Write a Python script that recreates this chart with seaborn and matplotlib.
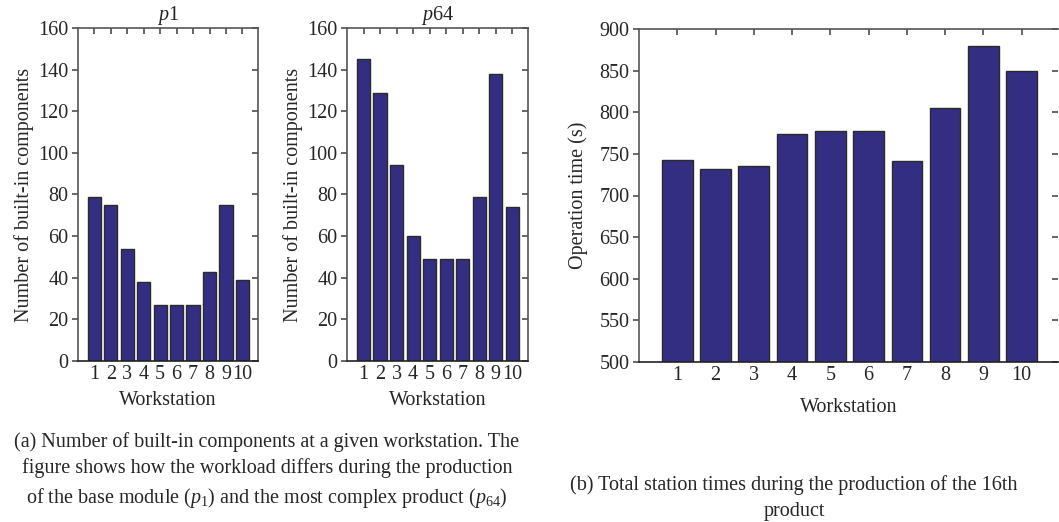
import matplotlib
matplotlib.use("Agg")
import matplotlib.pyplot as plt
import seaborn as sns
import pandas as pd

# data
workstations = ["1", "2", "3", "4", "5", "6", "7", "8", "9", "10"]
components_p1 = [79, 75, 54, 38, 27, 27, 27, 43, 75, 39]
components_p64 = [145, 129, 94, 60, 49, 49, 49, 79, 138, 74]
operation_time = [743, 732, 735, 774, 777, 777, 741, 805, 879, 849]

caption_a = ("(a) Number of built-in components at a given workstation. The\n"
             "figure shows how the workload differs during the production\n"
             "of the base module ($p_1$) and the most complex product ($p_{64}$)")
caption_b = "(b) Total station times during the production of the 16th\nproduct"

sns.set_theme(style="white")
plt.rcParams["font.family"] = ["Liberation Serif", "DejaVu Serif"]
plt.rcParams["mathtext.fontset"] = "custom"
plt.rcParams["mathtext.rm"] = "Liberation Serif"
plt.rcParams["mathtext.it"] = "Liberation Serif:italic"

BAR = "#332e82"
EDGE = "#2a2a2a"
SPINE = "#555555"
FS = 14.5

fig = plt.figure(figsize=(10.59, 5.22), dpi=100)
W, H = 1059, 522


def add_axes(x0, y0, x1, y1):
    return fig.add_axes([x0 / W, 1 - y1 / H, (x1 - x0) / W, (y1 - y0) / H])


def style(ax, ylim, yticks, ylabel, labelpad, xlabelpad):
    ax.set_ylim(*ylim)
    ax.set_yticks(yticks)
    ax.set_xlim(-1.0, 9.95)
    for s in ax.spines.values():
        s.set_color(SPINE)
        s.set_linewidth(1.2)
    ax.spines["bottom"].set_color("#222222")
    ax.tick_params(axis="y", which="both", left=True, right=True, direction="out",
                   length=4, color=SPINE, labelsize=FS, pad=3)
    ax.tick_params(axis="x", which="both", bottom=False, top=True, direction="in",
                   length=4, color=SPINE, labelsize=FS, pad=3)
    # right ticks point inward
    for t in ax.yaxis.get_major_ticks():
        t.tick2line.set_marker(0)
        t.tick2line.set_markersize(4)
    ax.set_xlabel("Workstation", fontsize=FS, labelpad=xlabelpad)
    ax.set_ylabel(ylabel, fontsize=FS, labelpad=labelpad)


df1 = pd.DataFrame({"ws": workstations, "n": components_p1})
df64 = pd.DataFrame({"ws": workstations, "n": components_p64})
dft = pd.DataFrame({"ws": workstations, "t": operation_time})

ax1 = add_axes(78, 28, 258, 361)
sns.barplot(data=df1, x="ws", y="n", color=BAR, saturation=1, width=0.8,
            edgecolor=EDGE, linewidth=1.0, ax=ax1)
style(ax1, (0, 160), range(0, 161, 20), "Number of built-in components", 3, 5)
ax1.set_title("$p$1", fontsize=FS, pad=6)

ax2 = add_axes(347, 28, 528, 361)
sns.barplot(data=df64, x="ws", y="n", color=BAR, saturation=1, width=0.8,
            edgecolor=EDGE, linewidth=1.0, ax=ax2)
style(ax2, (0, 160), range(0, 161, 20), "Number of built-in components", 3, 5)
ax2.set_title("$p$64", fontsize=FS, pad=6)

ax3 = add_axes(639, 29, 1058, 362)
sns.barplot(data=dft, x="ws", y="t", color=BAR, saturation=1, width=0.8,
            edgecolor=EDGE, linewidth=1.0, ax=ax3)
style(ax3, (500, 900), range(500, 901, 50), "Operation time (s)", 8, 9)
ax3.spines["right"].set_visible(False)

fig.text(267 / W, 1 - 471 / H, caption_a, ha="center", va="center",
         fontsize=14.5, linespacing=1.45)
fig.text(794 / W, 1 - 498 / H, caption_b, ha="center", va="center",
         fontsize=14.5, linespacing=1.55)

fig.savefig("out.png", dpi=100)
